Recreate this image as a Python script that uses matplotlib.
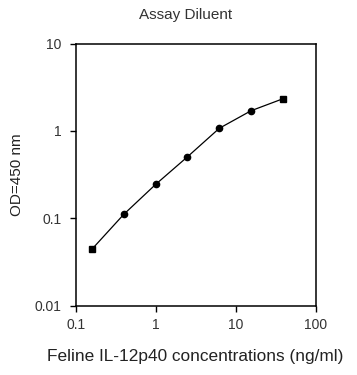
import matplotlib
matplotlib.use("Agg")
import matplotlib.pyplot as plt
from matplotlib.ticker import FixedLocator, NullLocator

plt.rcParams['font.family'] = ['Liberation Sans', 'DejaVu Sans']

concentration = [0.16, 0.4, 1.0, 2.5, 6.25, 15.6, 39.0]
od450 = [0.0443, 0.111, 0.244, 0.505, 1.07, 1.70, 2.33]
x_ticks = [0.1, 1, 10, 100]
x_tick_labels = ["0.1", "1", "10", "100"]
y_ticks = [0.01, 0.1, 1, 10]
y_tick_labels = ["0.01", "0.1", "1", "10"]

fig = plt.figure(figsize=(3.57, 3.75), dpi=100)
ax = fig.add_axes([0.212, 0.185, 0.672, 0.699])

ax.plot(concentration, od450, color='black', lw=0.9, zorder=2)
ax.plot(concentration[1:-1], od450[1:-1], 'o', color='black', ms=4.5, zorder=3)
ax.plot([concentration[0], concentration[-1]], [od450[0], od450[-1]], 's',
        color='black', ms=4, zorder=3)

ax.set_xscale('log')
ax.set_yscale('log')
ax.set_xlim(0.1, 100)
ax.set_ylim(0.01, 10)
ax.xaxis.set_major_locator(FixedLocator(x_ticks))
ax.set_xticklabels(x_tick_labels)
ax.yaxis.set_major_locator(FixedLocator(y_ticks))
ax.set_yticklabels(y_tick_labels)
ax.xaxis.set_minor_locator(NullLocator())
ax.yaxis.set_minor_locator(NullLocator())
ax.tick_params(axis='both', direction='out', length=4, width=1, labelsize=10,
               colors='black', labelcolor='#333333')
ax.tick_params(axis='x', pad=5)
ax.tick_params(axis='y', pad=6)
for s in ax.spines.values():
    s.set_linewidth(1.1)
    s.set_color('black')

fig.text(186/357, 1 - 15/375, "Assay Diluent", ha='center', va='center', fontsize=11, color='#333333')
fig.text(195/357, 1 - 356/375, "Feline IL-12p40 concentrations (ng/ml)", ha='center', va='center', fontsize=12.4, color='#222222')
fig.text(17/357, 1 - 175/375, "OD=450 nm", ha='center', va='center', rotation=90, fontsize=11, color='#222222')

fig.savefig("out.png", dpi=100)
